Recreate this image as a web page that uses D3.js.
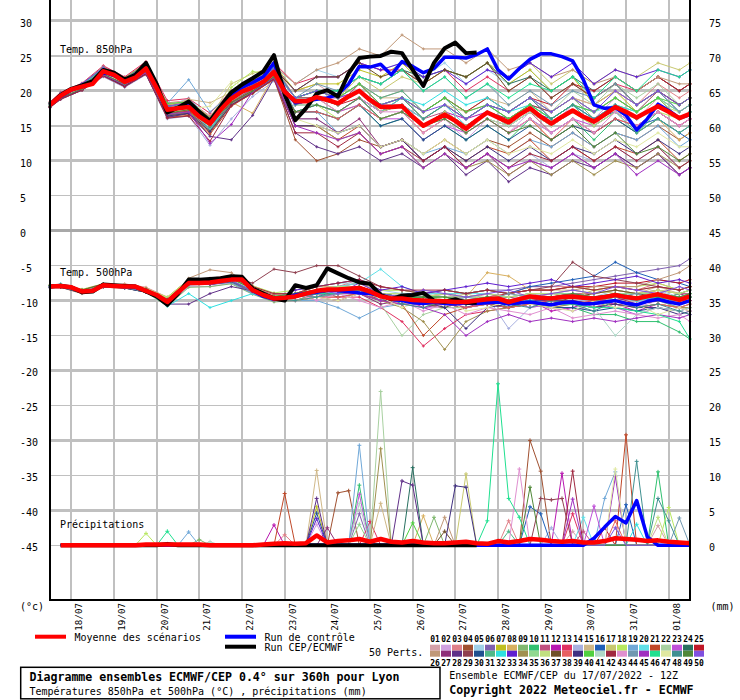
<!DOCTYPE html>
<html>
<head>
<meta charset="utf-8">
<script src="https://cdn.jsdelivr.net/npm/d3@7"></script>
<style>
html,body{margin:0;padding:0;background:#fff;}
svg{display:block;}
text{font-family:"DejaVu Sans Mono",monospace;fill:#000;}
</style>
</head>
<body>
<svg id="chart" width="740" height="700"></svg>
<script>
// ---------- time axes ----------
const hours6 = [0,6,12,18,24,30,36,42,48,54,60,66,72,78,84,90,96,102,108,114,120,126,132,138,144,150,156,162,168,174,180,186,192,198,204,210,216,222,228,234,240,246,252,258,264,270,276,282,288,294,300,306,312,318,324,330,336,342,348,354,360];
const memberHours = [0,6,18,30,42,54,66,78,90,102,114,126,138,150,162,174,186,198,210,222,234,246,258,270,282,294,306,318,330,342,354,360];
const dayHours = [12,36,60,84,108,132,156,180,204,228,252,276,300,324,348];
const dayLabels = ["18/07","19/07","20/07","21/07","22/07","23/07","24/07","25/07","26/07","27/07","28/07","29/07","30/07","31/07","01/08"];
const leftTicks = [-45,-40,-35,-30,-25,-20,-15,-10,-5,0,5,10,15,20,25,30];
const rightTicks = [0,5,10,15,20,25,30,35,40,45,50,55,60,65,70,75];

// ---------- member colours ----------
const memberColors = ["#d4a0a8","#d0a0e0","#e08088","#a05030","#a0d0e8","#8060b0","#c0c020","#d8b060","#80b870","#30c070",
"#c05080","#b818b0","#e03060","#a8b0e0","#d0b888","#2060b8","#c8c870","#b8e860","#70a8d8","#60e0e8",
"#c04828","#a8d0a0","#c050d8","#287060","#c01828","#c09878","#903078","#603088","#904050","#205090",
"#50b888","#30e0e0","#6020d0","#a09050","#90d890","#c0e080","#705028","#e86060","#403080","#50d040",
"#b0d8c8","#a02840","#e090d0","#7098b0","#a030c0","#20e090","#e0e8a0","#409090","#508838","#8050e0"];

// ---------- 850 hPa ----------
const t850Mean = [18.0,19.3,20.2,20.6,21.0,22.8,22.3,21.3,21.9,23.2,20.4,17.3,17.5,17.7,16.3,15.3,17.3,18.9,19.9,20.5,21.3,22.7,19.9,18.5,18.5,19.1,18.7,18.2,19.2,20.0,18.7,17.7,17.7,17.8,16.3,15.0,15.8,16.6,15.7,14.6,15.8,16.9,16.2,15.5,16.6,17.5,16.3,15.3,16.3,17.2,16.3,15.6,16.6,17.7,17.0,16.2,17.0,17.8,17.0,16.1,16.7];
const t850Control = [18.0,19.2,20.1,20.6,21.2,22.7,22.2,21.4,22.0,23.5,20.6,17.2,17.6,18.0,16.6,15.5,17.5,19.3,20.5,21.2,22.0,24.0,20.0,18.3,18.6,18.8,19.0,19.5,21.0,23.5,23.4,23.8,22.3,24.2,23.5,22.6,23.2,24.8,24.8,24.7,25.2,26.0,23.0,21.7,23.2,24.5,25.3,25.3,24.9,24.3,21.6,18.0,17.5,17.6,16.5,14.4,16.0,18.1,17.2,16.1,16.6];
const t850Cep = [18.0,19.4,20.3,20.8,21.4,23.0,22.6,21.6,22.3,24.0,21.0,16.9,17.6,18.5,17.0,15.7,17.8,19.8,20.9,21.8,22.8,25.1,19.5,15.8,17.5,19.6,20.1,19.2,22.5,24.7,24.9,25.0,25.6,25.4,23.0,20.7,24.0,26.1,26.9,25.4,25.5];
const t850Members = [
[18.2,19.5,20.8,23.1,21.6,23.6,17.8,18.2,15.8,19.4,21.0,23.2,20,21,19,21,18,19,16,18,15,17,16,18,15,17,15,18,16,19,17,18],
[17.9,19.1,20.4,22.5,21.0,22.9,16.9,17.3,14.8,18.5,20.1,22.3,18,19,17,19,16,17,14,16,13,16,14,17,15,18,16,19,17,19,17,18],
[18.4,19.7,21.0,23.5,21.9,24.0,18.3,18.6,16.4,19.8,21.5,23.8,19,20,19,21,19,20,17,19,17,18,16,18,17,19,18,20,18,21,19,20],
[17.7,18.9,20.2,22.1,20.7,22.5,16.3,16.7,14.0,18.0,19.6,21.7,13,10,11,13,12,13,11,13,11,13,12,14,12,14,12,14,13,15,13,14],
[18.0,19.4,20.7,23.0,21.5,23.4,17.6,19.0,16.0,19.5,21.2,23.5,21,23,22,24,23,24,22,24,21,23,21,23,20,22,19,21,18,20,17,18],
[17.8,19.0,20.3,22.4,20.9,22.8,16.6,17.0,15.0,18.3,20.0,22.0,17,18,17,19,17,18,16,18,16,18,17,19,16,18,17,20,18,20,17,18],
[18.3,19.6,20.9,23.3,21.8,23.9,18.0,18.5,16.2,19.7,21.4,23.7,20,21,21,23,22,24,21,23,22,24,21,23,20,22,18,20,17,19,16,17],
[17.9,19.2,20.5,22.6,21.1,23.0,16.8,17.2,14.6,18.4,16.8,22.2,18,19,17,18,16,17,15,17,14,16,14,16,13,15,14,16,14,16,13,14],
[18.1,19.4,20.7,23.0,21.5,23.4,17.5,18.0,15.6,19.2,20.8,23.0,18,19,18,20,18,19,16,18,16,18,17,19,17,19,16,18,17,19,16,17],
[17.8,19.1,20.3,22.4,21.0,22.7,16.6,17.1,14.4,18.2,20.0,22.0,17,17,16,18,15,16,13,15,13,15,13,16,14,16,13,16,14,17,15,16],
[18.2,19.6,20.9,23.2,21.7,23.7,17.9,18.3,15.9,19.6,21.2,23.3,19,19,18,21,18,18,16,17,14,16,15,17,14,16,14,16,15,17,15,16],
[18.0,19.2,20.5,22.7,21.2,23.1,17.1,17.6,15.2,18.8,20.4,22.6,18,19,19,20,17,18,15,17,16,17,15,17,15,17,16,18,16,18,16,17],
[18.4,19.8,21.1,23.6,22.0,24.2,18.6,18.9,16.8,20.0,21.7,24.0,21,22,22,24,23,23,21,23,20,22,20,22,19,21,19,21,20,22,20,21],
[17.6,18.8,20.1,22.0,20.5,22.3,16.0,16.4,12.2,16.0,19.2,21.4,16,16,14,15,12,13,10,12,9,11,9,11,9,11,10,12,10,12,9,10],
[18.1,19.5,20.8,23.0,21.6,23.5,17.7,18.8,18.3,19.8,21.3,23.4,19,20,19,21,19,19,16,18,17,19,18,20,17,19,18,20,18,20,18,19],
[17.9,19.1,20.4,22.6,21.1,22.9,17.0,17.4,15.0,18.6,20.3,22.4,18,18,17,19,16,17,15,17,15,17,15,17,16,18,16,17,15,16,14,13],
[18.2,19.6,20.9,23.2,21.8,23.8,17.9,18.4,16.1,21.0,22.5,23.4,19,20,19,22,20,22,21,23,22,24,22,24,21,23,21,23,22,24,23,24],
[17.8,19.0,20.3,22.4,21.0,22.8,16.7,17.1,14.9,20.5,22.8,22.1,18,18,16,18,16,17,14,16,14,16,15,17,15,17,15,17,15,17,16,17],
[18.3,19.7,21.0,23.4,21.2,23.1,18.2,21.6,17.0,19.6,21.3,23.6,17,17,14,15,12,13,11,12,11,13,11,13,12,14,12,14,13,15,12,13],
[18.0,19.2,20.5,22.7,21.2,23.0,17.2,17.7,15.5,18.9,20.5,22.6,18,19,18,20,17,18,16,18,15,17,16,18,16,18,17,18,16,18,16,17],
[17.7,18.9,20.1,22.2,20.8,22.4,16.2,16.5,13.8,17.8,19.7,21.6,15,15,13,15,12,13,10,12,10,12,11,13,10,12,10,12,11,13,10,11],
[18.2,19.5,20.8,23.0,21.6,23.3,17.6,18.1,15.6,19.1,20.9,23.1,19,19,18,20,18,19,17,19,17,19,17,19,17,20,18,21,19,21,18,19],
[17.9,19.1,20.4,22.5,21.1,23.0,17.0,17.5,15.1,19.0,20.4,22.4,17,18,17,18,16,16,13,15,14,16,14,16,14,16,15,17,15,17,15,16],
[18.1,19.5,20.8,23.1,21.6,23.6,17.7,18.1,15.7,19.4,21.0,23.1,19,20,20,22,21,23,22,23,22,24,21,22,20,22,20,22,20,22,20,21],
[17.8,19.0,20.3,22.5,21.0,22.9,16.8,17.1,15.0,18.5,20.1,22.1,18,19,18,19,17,19,17,19,17,19,17,19,18,21,20,22,20,22,20,21],
[18.3,19.6,21.0,23.4,21.8,23.9,18.1,18.2,16.3,19.8,21.3,23.6,21,23,24,26,25,28,26,26,24,26,23,24,22,23,21,22,20,22,21,21],
[17.8,19.0,20.3,22.3,20.9,22.7,16.5,16.9,14.6,18.3,19.9,22.0,16,16,14,16,12,13,10,12,9,11,8,10,9,11,9,11,9,11,8,9],
[17.7,18.8,20.1,22.2,20.6,22.4,16.2,16.8,13.5,13.0,16.5,21.8,14,12,11,12,10,11,9,11,8,10,7,9,8,10,9,11,9,11,8,9],
[18.1,19.4,20.8,23.0,21.5,23.2,17.6,18.0,15.5,19.0,20.8,23.0,19,19,18,20,17,18,15,17,15,17,16,18,17,19,17,19,17,20,18,19],
[17.9,19.1,20.4,22.6,21.1,23.0,17.0,17.5,14.9,18.6,20.1,22.5,17,17,16,18,15,16,13,15,13,15,13,15,13,15,14,16,14,16,14,15],
[18.1,19.5,20.7,23.1,21.5,23.5,17.5,18.0,15.6,19.5,21.0,23.0,19,20,19,21,19,20,17,19,16,18,16,18,16,18,15,17,14,16,14,15],
[17.9,19.2,20.5,22.6,21.2,23.1,17.1,17.6,14.5,18.6,20.5,22.5,17,18,17,19,17,19,18,20,18,19,17,18,16,18,16,18,17,19,17,18],
[18.3,19.6,21.0,23.3,21.7,23.7,17.8,18.2,16.0,19.6,21.1,23.3,20,22,22,24,23,24,22,23,21,23,22,24,22,24,21,23,22,23,22,23],
[17.8,19.0,20.3,22.3,20.8,22.6,16.4,16.9,14.3,18.1,19.9,21.9,15,15,13,14,11,12,9,11,9,10,8,10,8,10,8,10,9,11,9,10],
[18.1,19.4,20.6,22.9,21.5,23.2,17.5,18.0,15.6,19.1,20.9,23.0,18,19,18,20,18,19,16,18,16,18,17,19,17,19,17,19,17,19,17,18],
[18.0,19.2,20.5,22.7,21.2,23.0,17.2,17.6,15.2,19.0,20.5,22.6,18,19,18,20,17,18,15,17,15,17,15,17,15,17,15,17,16,18,17,18],
[18.2,19.6,20.9,23.2,21.7,23.6,17.8,18.2,15.8,19.5,21.1,23.2,20,22,22,24,22,23,21,23,22,24,20,22,19,21,19,21,18,20,18,19],
[17.9,19.1,20.4,22.5,21.0,22.9,16.9,17.2,15.0,18.5,20.1,22.1,17,17,16,18,16,17,14,16,14,16,14,16,13,16,14,16,15,17,15,16],
[17.7,18.9,20.2,22.2,20.7,22.5,16.4,16.8,14.2,18.0,19.8,21.8,15,15,14,15,12,13,10,12,10,12,10,12,10,12,11,13,11,13,11,12],
[18.3,19.6,20.9,23.3,21.8,23.8,18.2,18.4,16.1,19.6,21.2,23.3,19,20,19,21,18,19,17,19,17,18,16,18,16,18,17,19,17,19,18,19],
[17.9,19.2,20.4,22.6,21.1,23.0,17.0,17.5,15.0,18.6,20.4,22.5,18,18,17,19,16,17,15,16,14,16,15,17,15,17,16,18,16,18,16,17],
[17.6,18.8,20.1,22.1,20.6,22.4,16.1,16.4,12.8,17.9,19.7,21.7,14,14,12,14,11,12,10,12,9,11,9,11,10,12,10,12,10,12,9,10],
[18.1,19.5,20.8,23.1,21.6,23.5,17.6,18.1,15.6,19.2,20.9,23.1,18,19,17,19,17,17,14,16,14,16,14,16,14,16,14,17,15,17,15,16],
[18.0,19.2,20.5,22.7,21.2,23.1,17.2,17.7,15.2,19.0,20.6,22.7,19,21,20,22,21,23,20,22,19,21,18,20,18,20,19,21,18,20,17,18],
[17.8,19.0,20.3,22.3,20.9,22.6,16.7,17.0,12.5,15.2,19.9,21.9,15,14,13,14,11,12,9,11,9,11,9,10,9,11,9,11,8,10,8,9],
[18.2,19.6,20.9,23.2,21.7,23.7,17.8,18.2,15.9,19.5,21.1,23.3,19,20,20,22,21,23,20,22,19,21,19,21,20,22,19,22,20,23,22,23],
[17.9,19.1,20.4,22.5,21.1,22.9,16.9,17.4,17.8,21.3,20.3,22.3,16,15,14,15,12,13,11,13,11,13,11,12,11,13,11,13,12,14,12,12],
[18.1,19.4,20.7,23.0,21.5,23.2,17.5,18.0,15.5,19.1,20.9,23.0,18,19,18,20,18,19,16,18,16,18,17,19,16,18,16,18,16,18,16,17],
[17.8,19.0,20.3,22.4,21.0,22.8,16.8,17.3,15.0,18.4,20.0,22.0,17,18,17,19,16,17,15,16,14,16,14,15,13,15,12,14,11,12,10,11],
[18.2,19.6,21.0,23.3,21.7,23.7,17.8,18.3,16.0,19.6,21.1,23.2,19,20,19,20,18,19,17,18,16,18,17,19,17,19,17,20,18,20,18,19]
];

// ---------- 500 hPa ----------
const t500Mean = [-8.0,-7.9,-8.1,-8.7,-8.6,-7.8,-7.9,-8.0,-8.0,-8.6,-9.2,-10.2,-8.8,-7.5,-7.5,-7.4,-7.2,-7.0,-7.0,-8.5,-9.2,-9.7,-9.6,-9.4,-9.0,-8.6,-8.4,-8.4,-8.3,-8.2,-8.7,-9.4,-9.7,-9.7,-9.9,-10.0,-10.1,-10.1,-10.2,-10.2,-10.0,-9.8,-9.7,-10.2,-9.8,-9.4,-9.6,-9.7,-9.5,-9.4,-9.6,-9.7,-9.5,-9.2,-9.5,-9.7,-9.4,-9.1,-9.5,-9.9,-9.4];
const t500Control = [-8.0,-7.9,-8.1,-8.7,-8.6,-7.8,-7.9,-8.0,-8.0,-8.6,-9.3,-10.4,-8.9,-7.4,-7.4,-7.3,-7.1,-6.9,-6.9,-8.6,-9.4,-9.8,-9.6,-9.2,-9.0,-8.8,-8.5,-8.6,-8.7,-8.9,-9.0,-9.3,-9.8,-10.0,-10.3,-10.4,-10.2,-10.4,-10.5,-10.3,-10.4,-10.3,-10.2,-10.5,-10.3,-10.2,-10.4,-10.6,-10.3,-10.2,-10.5,-10.4,-10.2,-10.0,-10.4,-10.6,-10.1,-9.8,-10.2,-10.5,-10.0];
const t500Cep = [-8.0,-7.9,-8.1,-8.8,-8.7,-7.7,-7.8,-7.9,-8.0,-8.7,-9.4,-10.6,-9.0,-7.0,-7.0,-6.9,-6.8,-6.5,-6.6,-8.3,-9.0,-9.7,-10.0,-7.8,-8.2,-7.8,-5.4,-6.1,-6.8,-7.4,-7.6,-9.2,-9.8,-9.3,-9.2,-8.9,-10.0,-10.2,-9.8,-10.3,-10.3];
const t500Members = [
[-8.0,-7.8,-8.5,-7.7,-7.9,-8.4,-10.0,-7.3,-7.0,-6.8,-8.2,-9.2,-9,-8,-8,-7.5,-9,-9,-10,-9,-10,-9,-10,-9,-9.5,-9,-10,-9,-9.5,-8.5,-10,-9],
[-7.9,-7.6,-8.8,-7.6,-8.1,-8.7,-10.6,-8.0,-8.0,-7.5,-9.0,-10.1,-10,-9,-9,-8.5,-10,-10,-11,-11,-11,-10.5,-11,-10,-10,-10,-11,-10,-11,-10,-11,-10.5],
[-8.1,-8.0,-8.4,-7.9,-7.6,-8.1,-9.5,-7.0,-6.8,-6.4,-7.9,-9.0,-9,-8,-8,-7,-8,-8.5,-9,-9,-9,-8.5,-9,-8,-8,-8,-8.5,-8,-8.5,-7.5,-8.5,-8],
[-8.0,-8.1,-9.0,-8.1,-8.2,-8.8,-10.3,-7.6,-7.6,-7.2,-8.7,-9.8,-9.5,-8.5,-8.5,-8,-9.5,-10,-10.5,-10.5,-10.5,-10,-10.5,-9.5,-10,-9.5,-10,-9.5,-10,-9,-10,-9.5],
[-7.8,-7.7,-8.6,-7.7,-8.0,-8.5,-9.9,-7.1,-7.1,-6.9,-8.4,-9.4,-9,-8,-7.5,-7.5,-8.5,-9,-9,-9.5,-9.5,-9,-9.5,-9,-9,-9,-9.5,-8.5,-9,-8.5,-9.5,-9],
[-8.2,-8.0,-8.7,-8.0,-8.1,-8.6,-10.1,-7.6,-7.7,-7.4,-9.0,-10.0,-10,-9,-9,-8.5,-9.5,-9.5,-9.5,-9,-9,-8.5,-8.5,-8,-8,-7.5,-7,-6.5,-6,-5.5,-5,-4],
[-7.9,-7.9,-8.5,-7.8,-7.8,-8.3,-9.6,-7.0,-7.0,-6.6,-8.0,-9.1,-9,-8,-8,-8,-9,-9.5,-10,-10,-10,-9.5,-10,-9.5,-9.5,-9.5,-10,-9,-9.5,-9,-10,-9.5],
[-8.0,-7.9,-8.6,-7.9,-8.0,-8.6,-10.2,-7.4,-7.3,-7.0,-8.1,-9.2,-9,-8.5,-8,-8,-9,-9,-9.5,-9,-9.5,-6,-6.5,-8.5,-8.5,-8,-8.5,-8,-8.5,-8,-8.5,-8],
[-8.1,-8.1,-8.8,-8.0,-8.2,-8.8,-10.8,-8.1,-8.0,-7.6,-9.1,-10.2,-10,-9,-9,-9,-10,-10,-10.5,-11,-11,-10.5,-11,-10.5,-10.5,-10.5,-11,-10,-10.5,-10,-11,-10.5],
[-7.9,-7.8,-8.6,-7.8,-7.9,-8.5,-10.0,-7.4,-7.1,-6.9,-8.1,-9.5,-9,-8.5,-8.5,-8,-9.5,-10,-10.5,-10.5,-11,-10.5,-11,-10,-11,-11,-12,-12,-13,-13,-14.5,-15.5],
[-8.0,-7.8,-8.5,-7.7,-8.0,-8.4,-10.1,-7.1,-7.0,-7.0,-8.4,-9.1,-9,-8.5,-8,-7.5,-9,-9,-9.5,-9.5,-9.5,-9,-9.5,-9,-9,-9,-9,-8.5,-9,-8.5,-9,-9],
[-8.1,-8.0,-8.7,-8.0,-8.1,-8.6,-10.3,-7.6,-7.5,-7.1,-8.6,-9.6,-10,-9.5,-9,-8.5,-10,-9.5,-11,-10.5,-10,-10.5,-11,-10,-11.5,-11,-10,-10.5,-11.5,-10.5,-11,-11.5],
[-8.0,-7.9,-8.7,-7.8,-8.0,-8.7,-10.4,-7.7,-7.6,-7.2,-8.7,-10.0,-10,-9.5,-9.5,-9.5,-11,-13,-16.5,-14,-12,-11.5,-11,-10.5,-10,-10.5,-10,-10,-9.5,-10,-10,-10],
[-7.9,-7.8,-8.6,-7.9,-8.0,-8.5,-10.1,-7.5,-7.4,-7.0,-8.5,-9.6,-9.5,-9,-8.5,-8,-9.5,-9.5,-10,-10,-10,-9.5,-14,-11,-10.5,-10,-10,-9.5,-10,-9.5,-10.5,-10],
[-8.0,-7.8,-8.5,-7.6,-7.9,-8.4,-9.8,-7.0,-6.9,-6.9,-8.0,-9.0,-9,-8,-8,-7.5,-8.5,-8.5,-9,-9,-9,-8.5,-9,-8.5,-8.5,-8.5,-9,-8.5,-9,-8,-9,-8.5],
[-8.1,-8.0,-8.7,-8.0,-8.1,-8.6,-10.2,-7.5,-7.5,-7.1,-8.5,-9.6,-9.5,-8.5,-8.5,-8,-9,-9,-9,-8.5,-9,-8.5,-9,-8,-7.5,-7,-6.5,-4.5,-6,-7,-7.5,-8],
[-8.0,-7.9,-8.6,-7.8,-8.0,-8.6,-10.1,-7.4,-7.3,-7.0,-8.4,-9.7,-9.5,-9,-8,-8.5,-9,-10,-9.5,-10,-9,-10,-10.5,-9.5,-9,-9.5,-8.5,-9,-9.5,-8.5,-9,-8.5],
[-7.8,-7.7,-8.4,-7.6,-7.8,-8.3,-9.5,-7.0,-6.9,-6.5,-7.9,-8.9,-8.5,-8,-7.5,-7,-8.5,-8.5,-9,-8.5,-9,-8.5,-9,-8.5,-8.5,-8,-8.5,-8,-8,-7.5,-8.5,-8],
[-8.1,-8.0,-8.8,-8.0,-8.1,-8.7,-10.4,-7.8,-7.6,-7.4,-9.0,-10.0,-10,-10,-11,-12.5,-11,-10.5,-10.5,-10,-10.5,-10,-10,-9.5,-10,-9.5,-10,-9.5,-10,-9.5,-10,-9.5],
[-8.0,-7.9,-8.6,-7.8,-8.0,-8.5,-10.0,-7.3,-7.1,-7.0,-8.3,-9.4,-9,-8.5,-8,-7.5,-5.5,-8,-9,-9,-9,-9,-9.5,-9,-9,-9,-9.5,-9,-9.5,-9,-9.5,-9],
[-8.0,-8.0,-8.7,-7.9,-8.1,-8.6,-10.2,-7.5,-7.6,-7.1,-8.6,-9.7,-9.5,-9,-9,-8.5,-10,-10.5,-15,-12,-11,-10.5,-11,-10.5,-10.5,-10,-10.5,-10,-10.5,-10,-10.5,-10],
[-8.0,-7.9,-8.7,-7.8,-8.0,-8.6,-10.3,-7.5,-7.4,-7.0,-8.6,-9.8,-9.5,-9,-9,-8.5,-10.5,-15,-12,-11,-11,-10.5,-11,-10.5,-11,-10.5,-11,-10.5,-11,-10.5,-11,-11],
[-7.9,-7.8,-8.6,-7.7,-7.9,-8.5,-10.2,-7.4,-7.3,-7.0,-8.5,-9.6,-9,-9.5,-8,-9,-10,-9.5,-10.5,-10,-11,-10.5,-10,-11,-10.5,-11.5,-10.5,-11,-12,-11,-11.5,-12],
[-8.0,-7.9,-8.7,-7.9,-8.0,-8.6,-10.1,-7.5,-7.3,-7.0,-8.4,-9.5,-9,-8.5,-8.5,-8,-9,-9.5,-9.5,-9.5,-10,-9.5,-10,-9.5,-9.5,-9,-9.5,-9,-9.5,-9,-9.5,-9],
[-8.1,-8.0,-8.8,-8.0,-8.1,-8.7,-10.2,-7.6,-7.5,-7.1,-8.6,-9.7,-9.5,-9,-8.5,-8,-9,-9.5,-10,-9.5,-10,-9.5,-9,-8.5,-8.5,-8,-8,-7.5,-7.5,-7,-7.5,-7],
[-7.9,-7.8,-8.5,-7.7,-7.9,-8.4,-9.9,-6.8,-5.6,-6.0,-8.3,-9.4,-9.5,-9,-8.5,-8.5,-9.5,-9.5,-10,-10,-10,-9.5,-10,-9.5,-9,-8.5,-8,-8,-8,-7,-6,-5],
[-8.0,-8.0,-8.7,-7.9,-8.1,-8.7,-10.3,-7.6,-7.6,-7.2,-8.6,-9.7,-9,-9.5,-10,-9,-10.5,-10,-9.5,-10.5,-11,-10,-9.5,-10,-9.5,-9,-10,-9.5,-10.5,-10,-9,-9.5],
[-8.1,-8.0,-8.8,-8.0,-8.2,-8.8,-10.5,-10.5,-9.0,-8.0,-8.6,-9.7,-9.5,-9,-9,-8.5,-9.5,-10,-10,-10,-10.5,-10,-10.5,-10,-10,-10,-10.5,-10,-10.5,-10,-10.5,-10],
[-8.0,-7.9,-8.6,-7.8,-7.9,-8.5,-10.1,-7.3,-7.0,-6.6,-7.5,-5.5,-6,-5,-5,-6.5,-8,-8.5,-9,-8.5,-9,-8.5,-9,-8.5,-8,-4.5,-6.5,-7,-7.5,-8,-8.5,-8],
[-8.1,-8.1,-8.9,-8.0,-8.2,-8.8,-10.4,-7.7,-7.7,-7.3,-8.8,-9.9,-9.5,-9,-9,-9,-10,-10,-10.5,-10.5,-10.5,-10.5,-11,-10.5,-11,-11,-11.5,-11,-11.5,-11,-11.5,-11],
[-7.9,-7.8,-8.6,-7.8,-8.0,-8.6,-10.2,-7.4,-7.4,-7.0,-8.5,-9.6,-10,-9.5,-9,-8,-9,-10.5,-9.5,-11,-10,-9.5,-11,-9.5,-10,-9,-10,-9,-9.5,-10,-9,-8.5],
[-8.0,-7.6,-8.6,-7.6,-8.0,-8.6,-10.8,-9.0,-11.0,-10.0,-9.0,-9.6,-9.5,-8.5,-8,-8,-9,-9.5,-9.5,-9.5,-10,-9.5,-10,-9.5,-9.5,-9.5,-10,-9.5,-10,-9.5,-10,-9.5],
[-8.0,-7.9,-8.7,-7.9,-8.0,-8.6,-10.2,-7.5,-7.5,-7.1,-8.5,-9.7,-8.5,-8,-7.5,-7,-8.5,-8,-9,-8.5,-8,-7.5,-8,-7.5,-7,-8,-7.5,-7,-6.5,-7.5,-7,-7.5],
[-8.1,-8.0,-8.7,-8.0,-8.1,-8.7,-10.3,-7.6,-7.6,-7.2,-8.7,-9.8,-9.5,-9,-9,-9,-10,-11,-13,-17,-13,-11.5,-11,-10.5,-11,-10.5,-11,-10.5,-11,-10.5,-11,-11],
[-7.9,-7.8,-8.6,-7.7,-7.9,-8.5,-10.0,-7.3,-7.3,-6.9,-8.3,-9.4,-9,-8.5,-8.5,-8,-9,-9,-9.5,-9.5,-9.5,-9.5,-9.5,-9,-9,-9,-9.5,-9,-9,-9,-9.5,-9],
[-7.8,-7.7,-8.4,-7.6,-7.7,-8.2,-9.6,-7.0,-7.0,-6.5,-8.0,-9.0,-9,-8.5,-8,-8,-9,-9,-9.5,-9,-9.5,-9,-9.5,-9,-9,-8.5,-9,-8.5,-9,-8.5,-9,-8.5],
[-8.0,-8.0,-8.7,-7.9,-8.1,-8.6,-10.2,-7.5,-7.5,-7.1,-8.5,-9.7,-9,-8.5,-9.5,-9,-10,-9.5,-10.5,-11,-10,-10.5,-11,-10,-10.5,-9.5,-9,-8.5,-9,-9.5,-10,-9.5],
[-8.1,-8.0,-8.8,-8.0,-8.1,-8.7,-10.4,-7.7,-7.6,-7.2,-8.8,-9.9,-10,-9.5,-9.5,-9,-10,-10.5,-10.5,-10.5,-11,-10.5,-11,-10.5,-10.5,-10.5,-11,-10.5,-11,-10.5,-11,-10.5],
[-8.0,-8.0,-8.7,-7.9,-8.0,-8.6,-10.3,-7.6,-7.5,-7.2,-8.6,-9.7,-9.5,-9,-9,-8.5,-9.5,-10,-10,-11,-14,-11,-10.5,-10,-10.5,-10.5,-11,-10.5,-11,-11,-12,-11.5],
[-7.9,-7.8,-8.5,-7.7,-7.9,-8.4,-9.9,-7.1,-7.1,-6.9,-8.4,-9.5,-9,-8.5,-8.5,-8,-9,-9.5,-9.5,-9.5,-10,-9.5,-10,-9.5,-9.5,-9.5,-10,-9.5,-9.5,-9.5,-10,-9.5],
[-8.0,-7.9,-8.7,-7.8,-8.0,-8.6,-10.2,-7.5,-7.4,-7.0,-8.6,-9.7,-9.5,-9,-9,-8.5,-9.5,-10,-10,-10,-10,-10,-10.5,-10,-10.5,-10.5,-11,-15,-12,-11,-11.5,-11],
[-7.8,-7.7,-8.5,-7.6,-7.8,-8.3,-9.8,-7.2,-7.1,-6.8,-8.0,-9.0,-9,-8,-7.5,-7,-8,-8.5,-8.5,-8.5,-9,-8.5,-9,-8.5,-8.5,-8,-8.5,-8,-8.5,-8,-8.5,-8],
[-8.0,-7.9,-8.7,-7.8,-8.0,-8.6,-10.2,-7.5,-7.5,-7.1,-8.5,-9.7,-9,-10,-9,-10,-11,-10,-11.5,-10.5,-12,-11,-11.5,-12,-11,-12.5,-12,-11.5,-12,-12.5,-12,-13],
[-8.1,-8.0,-8.8,-7.9,-8.1,-8.7,-10.3,-7.6,-7.5,-7.1,-8.6,-9.8,-9,-9.5,-9,-8,-10,-9,-9.5,-10.5,-9.5,-10,-9,-9.5,-10,-9,-10,-9.5,-9,-10,-10,-9.5],
[-8.0,-7.9,-8.7,-7.9,-8.0,-8.7,-10.4,-7.7,-7.7,-7.2,-8.7,-9.8,-9.5,-9,-9,-9,-10,-10.5,-11,-12,-15,-13,-12,-13,-12.5,-13,-12.5,-13,-12.5,-12,-12.5,-12],
[-7.9,-7.8,-8.6,-7.8,-7.9,-8.5,-10.1,-7.4,-7.3,-7.0,-8.5,-9.6,-9.5,-9,-9,-8.5,-9.5,-10,-10,-10,-10.5,-10,-10.5,-10,-10.5,-10.5,-11,-11,-11.5,-12,-13,-15.5],
[-8.0,-7.9,-8.6,-7.8,-8.0,-8.6,-10.1,-7.4,-7.4,-7.0,-8.4,-9.6,-10,-9.5,-10,-9,-9.5,-11,-10,-9.5,-11.5,-11,-10,-10.5,-11,-11.5,-10,-11,-10.5,-12,-11,-11.5],
[-8.1,-8.0,-8.7,-8.0,-8.1,-8.7,-10.3,-7.6,-7.6,-7.2,-8.7,-9.8,-10,-9.5,-8.5,-8.5,-9,-10.5,-11,-10,-10.5,-9.5,-10.5,-11,-10,-10.5,-11.5,-10,-11,-10.5,-11.5,-12],
[-7.9,-7.8,-8.5,-7.7,-7.9,-8.4,-10.0,-7.2,-7.2,-6.9,-8.3,-9.4,-9,-8.5,-8.5,-8,-9,-9.5,-9.5,-9.5,-10,-9.5,-10,-9.5,-9.5,-9,-9.5,-9,-9.5,-9,-9.5,-9],
[-8.0,-8.0,-8.7,-7.9,-8.1,-8.6,-10.2,-7.5,-7.5,-7.1,-8.6,-9.7,-9.5,-8.5,-9,-7.5,-9,-9.5,-8.5,-9,-9.5,-9,-8.5,-9.5,-9,-8.5,-9,-8,-8.5,-9,-8,-8.5]
];

// ---------- precipitation (mm) ----------
const precipMean = [null,0,0,0,0,0,0,0,0,0.1,0.1,0.1,0.1,0.1,0.1,0,0,0,0,0,0.1,0.2,0.3,0.2,0.3,1.4,0.4,0.6,0.7,0.9,0.5,0.9,0.5,0.4,0.6,0.4,0.3,0.3,0.4,0.5,0.3,0.2,0.6,0.4,0.6,0.9,0.8,0.6,0.5,0.6,0.4,0.4,0.6,1.0,0.9,0.8,0.6,0.7,0.5,0.4,0.3];
const precipControl = [null,0,0,0,0,0,0,0,0,0,0,0,0,0,0,0,0,0,0,0,0,0,0,0,0,0,0,0,0,0,0,0,0,0,0,0,0,0,0,0,0,0,0,0,0,0,0,0,0,0,0,1.0,2.6,4.1,3.2,6.4,1.2,0,0,0,0];
const precipCep = [null,0,0,0,0,0,0,0,0,0,0,0.2,0,0,0,0,0,0,0,0,0,0,0,0,0,0,0,0,0,0,0,0,0,0,0,0,0,0,0,0,0];
// [member, hour, mm] - every other 6-hourly step of a member is dry (0 mm)
const precipEvents = [
[18,54,1.7],[46,66,2.0],[19,78,1.9],[9,84,0.8],[41,90,0.5],
[12,126,2.9],[21,132,7.4],[3,132,1.5],
[15,150,10.7],[28,150,6.7],[30,150,4.6],[7,150,5.5],[33,150,3.8],[2,150,3.0],[27,156,2.5],
[4,162,7.5],[4,168,7.8],
[19,174,14.3],[10,174,8.6],[23,174,7.3],[6,174,4.5],[41,174,6.0],[35,174,3.0],[13,180,3.4],
[22,186,22.0],[34,186,13.8],[15,186,6.0],
[28,198,9.2],[28,204,8.6],[24,204,11.1],[40,204,3.2],[8,210,4.2],[9,216,4.0],[37,222,2.0],[26,222,4.0],
[39,228,8.5],[39,234,8.3],[17,234,10.2],
[46,246,3.5],[46,252,23.1],[46,258,6.7],[46,264,4.0],[31,258,2.0],[3,258,3.5],[43,264,10.9],
[4,270,15.0],[4,276,10.6],[29,276,6.7],[29,282,6.5],[29,288,6.7],[49,270,8.3],[16,270,5.5],[16,276,4.5],[14,282,2.5],
[12,288,10.3],[42,294,10.6],[45,294,6.6],[13,294,4.5],[1,294,2.0],[20,300,4.0],[11,300,2.0],[23,306,5.6],
[25,312,2.5],[19,312,6.7],[19,318,10.5],[47,318,10.9],[45,318,9.8],[38,318,3.5],[50,318,2.5],
[21,324,15.8],[16,324,5.8],[48,330,12.0],[32,330,3.0],[10,342,10.5],[48,342,6.7],[48,348,3.5],[36,342,4.0],[1,342,2.8],[18,348,5.4],[44,354,3.9]
];

// ---------- drawing ----------
const svg = d3.select("#chart");
const x = d3.scaleLinear().domain([0, 360]).range([50, 690]);
const yL = d3.scaleLinear().domain([-52.83, 33]).range([600, 0]);
const yR = d3.scaleLinear().domain([-7.83, 78]).range([600, 0]);

// grid
const grid = svg.append("g").attr("shape-rendering", "crispEdges");
grid.selectAll("line.vg").data(dayHours).join("line").attr("class", "vg")
  .attr("x1", d => x(d)).attr("x2", d => x(d)).attr("y1", 0).attr("y2", 600)
  .attr("stroke", "#c0c0c0").attr("stroke-width", 2);
grid.selectAll("line.hg").data(leftTicks).join("line").attr("class", "hg")
  .attr("x1", 50).attr("x2", 690).attr("y1", d => yL(d)).attr("y2", d => yL(d))
  .attr("stroke", d => d === 0 ? "#a8a8a8" : "#c0c0c0")
  .attr("stroke-width", d => d === 0 ? 3 : (d % 10 === 0 ? 3 : 1.5));

function series(hours, vals) {
  return hours.map((h, i) => [h, vals[i]]).filter(d => d[1] != null);
}
function drawLine(pts, scale, color, width, parent) {
  parent.append("path").datum(pts)
    .attr("d", d3.line().x(d => x(d[0])).y(d => scale(d[1])))
    .attr("fill", "none").attr("stroke", color).attr("stroke-width", width)
    .attr("stroke-linejoin", "round");
}
function drawMarks(pts, scale, color, r, parent) {
  const p = d3.path();
  pts.forEach(([h, v]) => {
    const px = x(h), py = scale(v);
    p.moveTo(px - r, py); p.lineTo(px + r, py);
    p.moveTo(px, py - r); p.lineTo(px, py + r);
  });
  parent.append("path").attr("d", p.toString()).attr("fill", "none")
    .attr("stroke", color).attr("stroke-width", 1);
}

const membersG = svg.append("g");
// precipitation members
const precipMembers = memberColors.map(() => hours6.map((h, i) => i === 0 ? null : 0));
precipEvents.forEach(([m, h, v]) => { precipMembers[m - 1][hours6.indexOf(h)] = v; });
precipMembers.forEach((vals, i) => {
  const pts = series(hours6, vals);
  drawLine(pts, yR, memberColors[i], 1, membersG);
  drawMarks(pts.filter(d => d[1] > 0), yR, memberColors[i], 2, membersG);
});
// temperature members
t850Members.forEach((vals, i) => {
  const pts = series(memberHours, vals);
  drawLine(pts, yL, memberColors[i], 1, membersG);
  drawMarks(pts, yL, memberColors[i], 1.5, membersG);
});
t500Members.forEach((vals, i) => {
  const pts = series(memberHours, vals);
  drawLine(pts, yL, memberColors[i], 1, membersG);
  drawMarks(pts, yL, memberColors[i], 1.5, membersG);
});

const mainG = svg.append("g");
drawLine(series(hours6, precipControl), yR, "#0000ff", 3.5, mainG);
drawLine(series(hours6, precipCep), yR, "#000000", 4, mainG);
drawLine(series(hours6, t850Control), yL, "#0000ff", 3.5, mainG);
drawLine(series(hours6, t500Control), yL, "#0000ff", 3.5, mainG);
drawLine(series(hours6, t850Cep), yL, "#000000", 4, mainG);
drawLine(series(hours6, t500Cep), yL, "#000000", 4, mainG);
drawLine(series(hours6, t850Mean), yL, "#ff0000", 4.5, mainG);
drawLine(series(hours6, t500Mean), yL, "#ff0000", 4.5, mainG);
drawLine(series(hours6, precipMean), yR, "#ff0000", 4.5, mainG);

// frame
const frame = svg.append("g").attr("stroke", "#000").attr("shape-rendering", "crispEdges");
frame.append("line").attr("x1", 50).attr("x2", 50).attr("y1", 0).attr("y2", 601).attr("stroke-width", 1.5);
frame.append("line").attr("x1", 690).attr("x2", 690).attr("y1", 0).attr("y2", 601).attr("stroke-width", 2);
frame.append("line").attr("x1", 49).attr("x2", 691).attr("y1", 600).attr("y2", 600).attr("stroke-width", 2);

// axes
const axL = svg.append("g").attr("transform", "translate(50,0)")
  .call(d3.axisLeft(yL).tickValues(leftTicks).tickSize(0).tickFormat(d => String(d)));
axL.select(".domain").remove();
axL.selectAll("text").attr("x", -30).attr("dy", 0).attr("y", 5.5)
  .attr("text-anchor", "start").style("font-size", "10px");

const axR = svg.append("g").attr("transform", "translate(690,0)")
  .call(d3.axisRight(yR).tickValues(rightTicks).tickSize(0).tickPadding(19).tickFormat(d => String(d)));
axR.select(".domain").remove();
axR.selectAll("text").attr("dy", 0).attr("y", 5.5).style("font-size", "10px");

const axB = svg.append("g").attr("transform", "translate(0,600)")
  .call(d3.axisBottom(x).tickValues(dayHours).tickSize(0).tickFormat((d, i) => dayLabels[i]));
axB.select(".domain").remove();
axB.selectAll("text").attr("y", 0).attr("dy", 0).attr("x", 0)
  .attr("transform", "translate(10.5,3) rotate(-90)").attr("text-anchor", "end")
  .style("font-size", "9.2px");

// panel labels
const lab = svg.append("g").style("font-size", "10px");
lab.append("text").attr("x", 60).attr("y", 53.3).text("Temp. 850hPa");
lab.append("text").attr("x", 60).attr("y", 275.5).text("Temp. 500hPa");
lab.append("text").attr("x", 60).attr("y", 527.8).text("Précipitations");
lab.append("text").attr("x", 20).attr("y", 609.5).text("(°c)");
lab.append("text").attr("x", 710.5).attr("y", 609.5).text("(mm)");

// legend
const leg = svg.append("g").style("font-size", "10px");
leg.append("line").attr("x1", 35).attr("x2", 66).attr("y1", 636.7).attr("y2", 636.7).attr("stroke", "#ff0000").attr("stroke-width", 4);
leg.append("text").attr("x", 74.5).attr("y", 640.7).text("Moyenne des scénarios");
leg.append("line").attr("x1", 225).attr("x2", 256).attr("y1", 636.7).attr("y2", 636.7).attr("stroke", "#0000ff").attr("stroke-width", 4);
leg.append("text").attr("x", 264.5).attr("y", 640.7).text("Run de contrôle");
leg.append("line").attr("x1", 225).attr("x2", 256).attr("y1", 646.7).attr("y2", 646.7).attr("stroke", "#000000").attr("stroke-width", 4);
leg.append("text").attr("x", 264.5).attr("y", 650.8).text("Run CEP/ECMWF");
leg.append("text").attr("x", 369).attr("y", 655.7).text("50 Perts.");

// member swatches
const sw = svg.append("g");
memberColors.forEach((c, i) => {
  const col = i % 25, row = Math.floor(i / 25);
  sw.append("rect").attr("x", 430 + col * 11).attr("y", row === 0 ? 644.7 : 650.7)
    .attr("width", 10).attr("height", 6).attr("fill", c);
  sw.append("text").attr("x", 435 + col * 11).attr("y", row === 0 ? 642.4 : 665.8)
    .attr("text-anchor", "middle").style("font-size", "8px").style("font-weight", "bold")
    .text(String(i + 1).padStart(2, "0"));
});

// title box
svg.append("rect").attr("x", 20.7).attr("y", 667.3).attr("width", 419.3).attr("height", 31.5)
  .attr("fill", "none").attr("stroke", "#000").attr("stroke-width", 1.5);
svg.append("text").attr("x", 29.5).attr("y", 681).style("font-size", "11.6px").style("font-weight", "bold")
  .text("Diagramme ensembles ECMWF/CEP 0.4° sur 360h pour Lyon");
svg.append("text").attr("x", 29.5).attr("y", 695.3).style("font-size", "10px")
  .text("Températures 850hPa et 500hPa (°C) , précipitations (mm)");
svg.append("text").attr("x", 449.3).attr("y", 679.3).style("font-size", "10px")
  .text("Ensemble ECMWF/CEP du 17/07/2022 - 12Z");
svg.append("text").attr("x", 449.3).attr("y", 694.3).style("font-size", "11.6px").style("font-weight", "bold")
  .text("Copyright 2022 Meteociel.fr - ECMWF");
</script>
</body>
</html>
